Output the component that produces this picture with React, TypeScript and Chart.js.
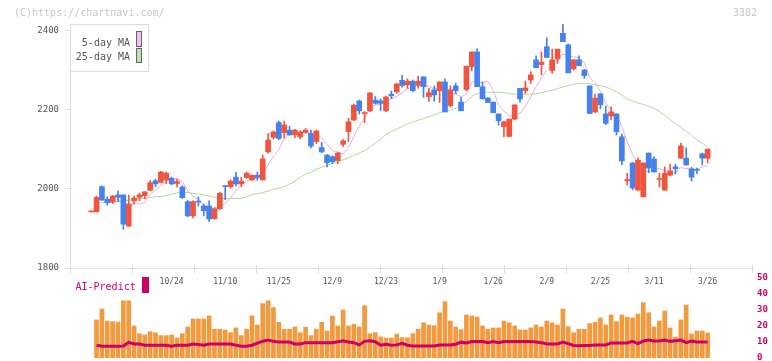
import React, { useEffect, useRef } from "react";
import { Chart, registerables } from "chart.js";

Chart.register(...registerables);

// ---- Data (k = candle index, 0..115) ----
const DATE_LABELS = ["10/24", "11/10", "11/25", "12/9", "12/23", "1/9", "1/26", "2/9", "2/25", "3/11", "3/26"];
const DATE_LABEL_INDEX = [15, 25, 35, 45, 55, 65, 75, 85, 95, 105, 115];
const PRICE_TICKS = [1800, 2000, 2200, 2400];
const VOLUME_TICKS = [0, 10, 20, 30, 40, 50];

const OPEN = [
  1942, 1942, 2006, 1974, 1967, 1985, 1985, 1906, 1970, 1979,
  1983, 1997, 2021, 2017, 2023, 2027, 2014, 2005, 1968, 1932,
  1968, 1957, 1957, 1925, 1950, 2008, 2006, 2030, 2013, 2029,
  2023, 2035, 2023, 2094, 2131, 2168, 2143, 2149, 2137, 2132,
  2143, 2141, 2120, 2105, 2086, 2082, 2072, 2113, 2145, 2175,
  2223, 2191, 2198, 2225, 2223, 2198, 2240, 2246, 2275, 2264,
  2273, 2262, 2284, 2234, 2251, 2249, 2271, 2211, 2261, 2220,
  2252, 2310, 2347, 2259, 2230, 2220, 2190, 2158, 2133, 2177,
  2255, 2249, 2276, 2327, 2315, 2360, 2300, 2329, 2394, 2365,
  2304, 2327, 2301, 2261, 2195, 2241, 2190, 2185, 2190, 2132,
  2021, 2066, 1997, 1980, 2091, 2076, 2024, 1997, 2035, 2056,
  2078, 2078, 2051, 2049, 2089, 2078,
];
const HIGH = [
  1942, 1982, 2008, 1980, 1984, 1995, 1985, 1985, 1982, 1990,
  1993, 2021, 2025, 2045, 2043, 2030, 2025, 2008, 1971, 1970,
  1980, 1962, 1970, 1953, 1992, 2008, 2023, 2042, 2030, 2043,
  2035, 2043, 2086, 2140, 2147, 2172, 2172, 2159, 2151, 2148,
  2153, 2149, 2149, 2118, 2087, 2084, 2093, 2125, 2179, 2215,
  2225, 2196, 2245, 2234, 2228, 2235, 2248, 2268, 2288, 2279,
  2276, 2285, 2284, 2255, 2261, 2271, 2279, 2261, 2268, 2232,
  2311, 2347, 2355, 2271, 2232, 2220, 2190, 2172, 2177, 2213,
  2255, 2273, 2297, 2337, 2347, 2383, 2354, 2354, 2418, 2367,
  2327, 2337, 2303, 2261, 2240, 2241, 2210, 2208, 2190, 2139,
  2040, 2068, 2079, 2066, 2091, 2082, 2040, 2056, 2063, 2063,
  2116, 2104, 2055, 2053, 2091, 2101,
];
const LOW = [
  1942, 1942, 1971, 1959, 1963, 1968, 1898, 1905, 1962, 1970,
  1975, 1996, 2006, 2016, 2013, 2011, 2005, 1976, 1930, 1927,
  1957, 1932, 1917, 1923, 1948, 1973, 2002, 2008, 2006, 2027,
  2022, 2022, 2023, 2091, 2127, 2125, 2129, 2136, 2130, 2127,
  2141, 2104, 2115, 2092, 2056, 2064, 2064, 2107, 2120, 2173,
  2190, 2168, 2196, 2215, 2198, 2196, 2229, 2242, 2258, 2255,
  2246, 2255, 2232, 2222, 2222, 2219, 2195, 2208, 2241, 2198,
  2249, 2299, 2259, 2228, 2219, 2193, 2162, 2132, 2132, 2175,
  2220, 2242, 2267, 2307, 2289, 2333, 2293, 2318, 2373, 2294,
  2301, 2312, 2280, 2191, 2193, 2203, 2163, 2175, 2137, 2061,
  2010, 1998, 1997, 1980, 2041, 2043, 2005, 1997, 2033, 2038,
  2077, 2060, 2020, 2038, 2061, 2066,
];
const CLOSE = [
  1942, 1979, 1972, 1965, 1982, 1979, 1911, 1962, 1977, 1985,
  1993, 2016, 2013, 2043, 2040, 2013, 2019, 1978, 1932, 1968,
  1967, 1945, 1924, 1950, 1989, 2006, 2020, 2013, 2020, 2040,
  2035, 2029, 2076, 2124, 2144, 2128, 2162, 2137, 2149, 2144,
  2149, 2109, 2147, 2094, 2067, 2069, 2091, 2122, 2170, 2212,
  2198, 2193, 2243, 2217, 2217, 2233, 2236, 2266, 2262, 2273,
  2249, 2273, 2259, 2244, 2238, 2271, 2195, 2251, 2249, 2198,
  2311, 2347, 2259, 2228, 2219, 2193, 2173, 2170, 2177, 2213,
  2228, 2256, 2289, 2307, 2321, 2333, 2327, 2354, 2373, 2294,
  2327, 2312, 2287, 2191, 2230, 2213, 2166, 2195, 2145, 2071,
  2024, 2003, 2073, 2066, 2053, 2043, 2026, 2040, 2046, 2051,
  2109, 2061, 2030, 2047, 2078, 2101,
];
const MA5 = [
  null, null, null, 1966, 1968, 1975, 1962, 1960, 1962, 1963,
  1966, 1987, 1997, 2010, 2021, 2025, 2026, 2019, 1996, 1982,
  1973, 1958, 1947, 1951, 1955, 1963, 1978, 1996, 2010, 2020,
  2026, 2027, 2040, 2061, 2082, 2100, 2127, 2139, 2144, 2144,
  2148, 2138, 2140, 2129, 2113, 2097, 2094, 2089, 2104, 2133,
  2159, 2179, 2203, 2213, 2214, 2221, 2229, 2234, 2243, 2254,
  2257, 2265, 2263, 2260, 2253, 2257, 2241, 2240, 2241, 2233,
  2241, 2271, 2273, 2269, 2273, 2249, 2214, 2197, 2186, 2185,
  2192, 2209, 2233, 2259, 2280, 2301, 2315, 2328, 2342, 2336,
  2335, 2332, 2319, 2282, 2269, 2247, 2217, 2199, 2190, 2158,
  2120, 2088, 2063, 2047, 2044, 2048, 2052, 2046, 2042, 2041,
  2054, 2052, 2050, 2050, 2056, 2058,
];
const MA25 = [
  null, 1966, 1966, 1966, 1967, 1968, 1970, 1972, 1974, 1976,
  1977, 1979, 1980, 1981, 1983, 1987, 1990, 1991, 1991, 1989,
  1987, 1985, 1982, 1979, 1977, 1976, 1976, 1976, 1976, 1980,
  1986, 1988, 1991, 1995, 1999, 2002, 2006, 2012, 2020, 2030,
  2038, 2042, 2050, 2055, 2060, 2064, 2069, 2074, 2079, 2085,
  2091, 2097, 2106, 2116, 2126, 2138, 2146, 2152, 2158, 2165,
  2170, 2174, 2178, 2183, 2187, 2193, 2197, 2200, 2204, 2212,
  2221, 2234, 2242, 2245, 2245, 2245, 2245, 2244, 2241, 2240,
  2240, 2240, 2240, 2241, 2244, 2247, 2250, 2254, 2258, 2262,
  2265, 2267, 2268, 2266, 2264, 2262, 2258, 2253, 2246, 2238,
  2228, 2222, 2218, 2214, 2209, 2204, 2196, 2187, 2176, 2166,
  2156, 2146, 2136, 2125, 2116, 2106,
];
const VOLUME = [
  null, 23.8, 30.6, 23.1, 22.7, 22.5, 35.8, 35.8, 20.0, 15.2,
  14.4, 16.5, 15.8, 14.0, 14.0, 14.4, 12.5, 15.2, 19.4, 24.4,
  24.4, 24.4, 26.3, 18.0, 18.0, 17.5, 15.8, 18.8, 14.0, 18.0,
  26.3, 20.6, 34.0, 35.8, 31.5, 22.3, 18.0, 18.0, 19.4, 15.8,
  19.2, 14.0, 18.0, 22.3, 16.9, 26.3, 20.0, 30.0, 20.0, 21.0,
  19.4, 32.7, 15.2, 15.9, 13.2, 12.5, 12.5, 15.0, 12.7, 12.7,
  15.2, 18.0, 22.0, 20.6, 20.2, 28.3, 35.2, 23.1, 19.4, 17.7,
  26.9, 26.3, 25.6, 20.0, 18.0, 18.8, 18.8, 23.1, 22.0, 20.0,
  17.5, 17.5, 18.8, 20.6, 19.4, 23.1, 22.0, 20.6, 30.6, 19.6,
  15.8, 18.0, 18.0, 21.5, 22.3, 25.0, 20.6, 26.9, 22.7, 26.9,
  25.6, 25.0, 27.5, 34.6, 28.3, 19.4, 23.1, 29.4, 18.8, 13.1,
  23.8, 33.1, 15.0, 16.9, 16.9, 15.6,
];
const AI_PREDICT = [
  null, 8.0, 7.3, 7.3, 7.3, 7.3, 7.5, 9.8, 8.8, 8.8,
  8.0, 8.0, 8.0, 8.0, 8.0, 7.4, 8.0, 8.0, 8.0, 8.8,
  8.4, 8.0, 8.8, 8.8, 8.8, 8.8, 8.8, 8.0, 7.4, 7.4,
  8.0, 9.3, 10.5, 11.2, 10.4, 10.0, 10.0, 10.0, 8.8, 8.8,
  9.6, 9.6, 9.6, 9.6, 9.6, 9.6, 10.2, 10.8, 10.0, 9.6,
  8.2, 10.4, 10.8, 10.2, 8.0, 8.6, 8.0, 8.2, 9.2, 8.0,
  7.5, 7.5, 7.5, 7.5, 7.5, 8.1, 8.1, 8.1, 8.6, 9.9,
  9.4, 10.3, 10.3, 10.3, 9.6, 10.3, 9.6, 10.3, 10.3, 10.3,
  10.3, 10.3, 10.3, 10.0, 9.6, 8.8, 8.8, 8.8, 9.9, 9.0,
  7.8, 7.6, 7.8, 7.8, 8.1, 8.1, 8.1, 9.4, 9.4, 9.4,
  9.4, 10.4, 9.0, 10.6, 11.2, 10.6, 10.6, 11.2, 10.4, 10.8,
  11.2, 9.6, 10.6, 10.0, 10.0, 10.0,
];

// ---- Styles / layout ----
const X_MIN = -3.955;
const X_MAX = 123.28;
const MONO = "'DejaVu Sans Mono', monospace";
const UP = "#f2553f";
const DOWN = "#4582ef";
const MAGENTA = "#cc0066";

const mainDecor = {
  id: "mainDecor",
  afterDraw(chart: any) {
    const ctx = chart.ctx;
    const x = chart.scales.x;
    const a = chart.chartArea;
    ctx.save();
    // x axis line and tick marks
    ctx.strokeStyle = "#dddddd";
    ctx.lineWidth = 1;
    ctx.beginPath();
    ctx.moveTo(a.left, a.bottom + 0.5);
    ctx.lineTo(a.right, a.bottom + 0.5);
    ctx.stroke();
    for (let i = 0; i <= 11; i++) {
      const v = X_MIN + (i * (X_MAX - X_MIN)) / 11;
      const px = Math.round(x.getPixelForValue(v)) + 0.5;
      ctx.beginPath();
      ctx.moveTo(px, a.bottom - 3);
      ctx.lineTo(px, a.bottom + 5);
      ctx.stroke();
    }
    // date labels
    ctx.fillStyle = "#555555";
    ctx.font = `8px ${MONO}`;
    ctx.textAlign = "center";
    ctx.textBaseline = "middle";
    DATE_LABELS.forEach((t, j) => {
      ctx.fillText(t, x.getPixelForValue(DATE_LABEL_INDEX[j]), 282);
    });
    // legend box
    ctx.fillStyle = "#ffffff";
    ctx.fillRect(70.5, 24.5, 78, 47);
    ctx.strokeStyle = "#dddddd";
    ctx.strokeRect(70.5, 24.5, 78, 47);
    ctx.font = `10px ${MONO}`;
    ctx.fillStyle = "#555555";
    ctx.textAlign = "right";
    ctx.textBaseline = "alphabetic";
    ctx.fillText("5-day MA", 130, 45.5);
    ctx.fillText("25-day MA", 130, 60);
    ctx.strokeStyle = "#666666";
    ctx.fillStyle = "#f0c0f0";
    ctx.fillRect(136.5, 31.5, 5, 15);
    ctx.strokeRect(136.5, 31.5, 5, 15);
    ctx.fillStyle = "#c0e0b0";
    ctx.fillRect(136.5, 48.5, 5, 14);
    ctx.strokeRect(136.5, 48.5, 5, 14);
    // watermark texts
    ctx.fillStyle = "#c8c8c8";
    ctx.textAlign = "left";
    ctx.fillText("(C)https://chartnavi.com/", 14, 15.5);
    ctx.textAlign = "right";
    ctx.fillText("3382", 757, 15.5);
    ctx.restore();
  },
};

const volDecor = {
  id: "volDecor",
  afterDraw(chart: any) {
    const ctx = chart.ctx;
    const y = chart.scales.y;
    ctx.save();
    ctx.fillStyle = MAGENTA;
    ctx.font = `bold 9px ${MONO}`;
    ctx.textAlign = "left";
    ctx.textBaseline = "middle";
    VOLUME_TICKS.forEach((v) => {
      ctx.fillText(String(v), 757, y.getPixelForValue(v));
    });
    ctx.font = `10px ${MONO}`;
    ctx.textBaseline = "alphabetic";
    ctx.fillText("AI-Predict", 75.5, 289.5);
    ctx.fillRect(142, 277, 7, 16);
    ctx.restore();
  },
};

export default function App() {
  const mainRef = useRef<HTMLCanvasElement>(null);
  const volRef = useRef<HTMLCanvasElement>(null);

  useEffect(() => {
    const idx = CLOSE.map((_, i) => i);
    const colors = idx.map((i) => (CLOSE[i] >= OPEN[i] ? UP : DOWN));

    const main = new Chart(mainRef.current as HTMLCanvasElement, {
      type: "bar",
      data: {
        datasets: [
          {
            type: "line",
            label: "5-day MA",
            data: MA5.map((v, i) => ({ x: i, y: v })),
            borderColor: "#e6ace6",
            borderWidth: 1,
            pointRadius: 0,
            tension: 0,
            order: 3,
          } as any,
          {
            type: "line",
            label: "25-day MA",
            data: MA25.map((v, i) => ({ x: i, y: v })),
            borderColor: "#b0d89c",
            borderWidth: 1,
            pointRadius: 0,
            tension: 0,
            order: 4,
          } as any,
          {
            type: "bar",
            label: "wick",
            data: idx.map((i) => ({ x: i, y: [LOW[i], HIGH[i]] })),
            backgroundColor: colors,
            barThickness: 1,
            grouped: false,
            minBarLength: 1,
            order: 2,
          } as any,
          {
            type: "bar",
            label: "body",
            data: idx.map((i) => ({ x: i, y: [OPEN[i], CLOSE[i]] })),
            backgroundColor: colors,
            barThickness: 5,
            grouped: false,
            minBarLength: 1,
            order: 1,
          } as any,
        ],
      },
      options: {
        animation: false,
        responsive: false,
        maintainAspectRatio: false,
        devicePixelRatio: 1,
        layout: { padding: { left: 0, right: 20, top: 24, bottom: 93 } },
        plugins: { legend: { display: false }, tooltip: { enabled: false } },
        scales: {
          x: { type: "linear", min: X_MIN, max: X_MAX, display: false, offset: false },
          y: {
            min: 1800,
            max: 2417.7,
            afterFit: (s: any) => {
              s.width = 70;
            },
            afterBuildTicks: (s: any) => {
              s.ticks = PRICE_TICKS.map((v) => ({ value: v }));
            },
            grid: { drawOnChartArea: false, drawTicks: true, tickLength: 5, color: "#dddddd" },
            border: { display: true, color: "#dddddd" },
            ticks: {
              padding: 6,
              color: "#555555",
              font: { family: MONO, size: 9 },
              callback: (v: any) => String(v),
            },
          },
        },
      } as any,
      plugins: [mainDecor],
    });

    const vol = new Chart(volRef.current as HTMLCanvasElement, {
      type: "bar",
      data: {
        datasets: [
          {
            type: "line",
            label: "AI-Predict",
            data: AI_PREDICT.map((v, i) => ({ x: i, y: v })),
            borderColor: MAGENTA,
            borderWidth: 3,
            pointRadius: 0,
            tension: 0,
            order: 0,
          } as any,
          {
            type: "bar",
            label: "Volume",
            data: VOLUME.map((v, i) => ({ x: i, y: v })),
            backgroundColor: "#f39a3f",
            barThickness: 4,
            grouped: false,
            order: 1,
          } as any,
        ],
      },
      options: {
        animation: false,
        responsive: false,
        maintainAspectRatio: false,
        devicePixelRatio: 1,
        layout: { padding: { left: 70, right: 20, top: 278, bottom: 3 } },
        plugins: { legend: { display: false }, tooltip: { enabled: false } },
        scales: {
          x: { type: "linear", min: X_MIN, max: X_MAX, display: false, offset: false },
          y: { min: 0, max: 50, display: false },
        },
      } as any,
      plugins: [volDecor],
    });

    return () => {
      main.destroy();
      vol.destroy();
    };
  }, []);

  return (
    <div style={{ position: "fixed", left: 0, top: 0, width: 772, height: 361, background: "#ffffff" }}>
      <canvas ref={mainRef} width={772} height={361} style={{ position: "absolute", left: 0, top: 0 }} />
      <canvas ref={volRef} width={772} height={361} style={{ position: "absolute", left: 0, top: 0 }} />
    </div>
  );
}
